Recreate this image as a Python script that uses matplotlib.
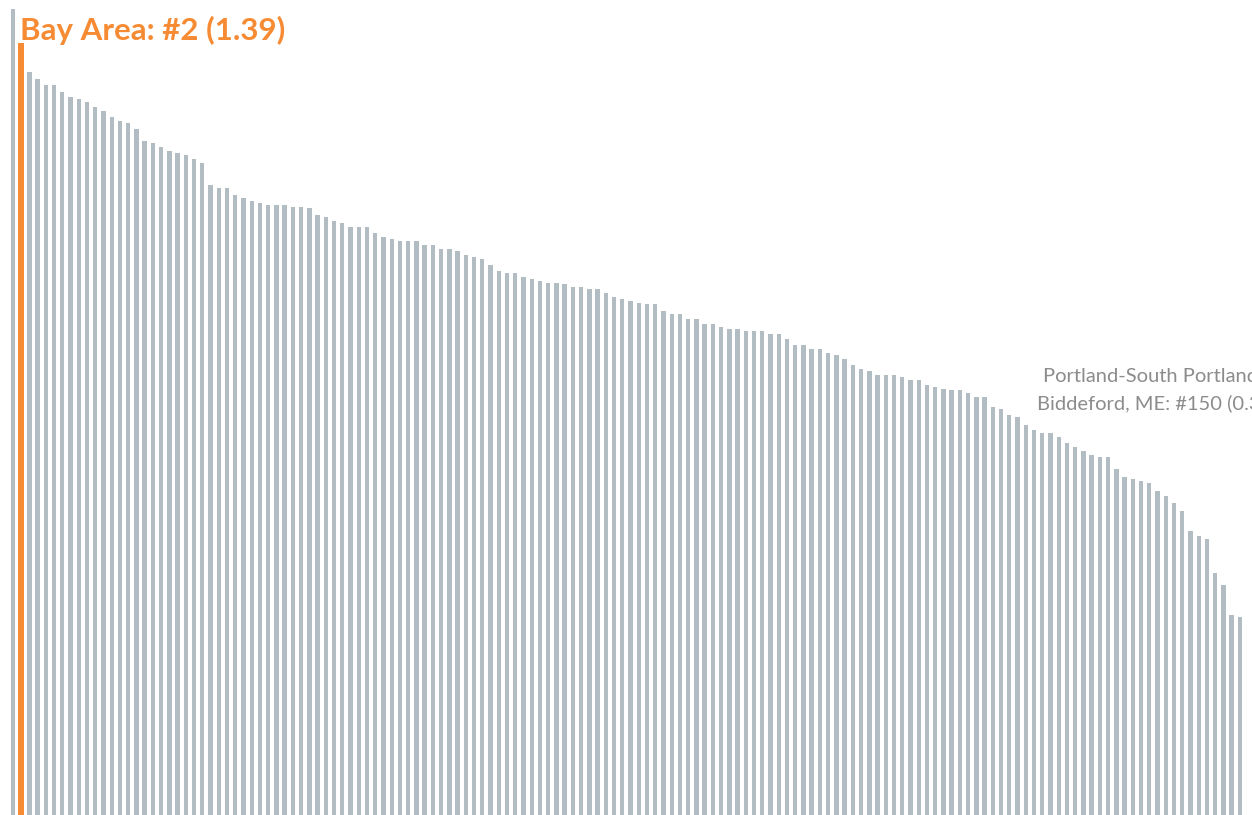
import matplotlib
matplotlib.use("Agg")
import matplotlib.pyplot as plt
import numpy as np

# ratio per metro area, sorted high to low (rank 1..150)
values = [
    1.451, 1.390, 1.337, 1.326, 1.315, 1.315, 1.301, 1.293, 1.290, 1.283,
    1.275, 1.268, 1.257, 1.250, 1.246, 1.236, 1.214, 1.210, 1.203, 1.196,
    1.192, 1.189, 1.182, 1.174, 1.135, 1.128, 1.128, 1.117, 1.110, 1.106,
    1.102, 1.099, 1.099, 1.099, 1.095, 1.095, 1.092, 1.081, 1.077, 1.070,
    1.066, 1.059, 1.059, 1.059, 1.048, 1.041, 1.037, 1.034, 1.034, 1.034,
    1.027, 1.027, 1.019, 1.019, 1.016, 1.009, 1.005, 1.001, 0.991, 0.980,
    0.976, 0.976, 0.969, 0.965, 0.962, 0.958, 0.958, 0.955, 0.951, 0.951,
    0.947, 0.947, 0.940, 0.933, 0.929, 0.926, 0.922, 0.919, 0.919, 0.908,
    0.901, 0.901, 0.893, 0.893, 0.883, 0.883, 0.879, 0.875, 0.875, 0.872,
    0.872, 0.872, 0.865, 0.865, 0.857, 0.846, 0.846, 0.839, 0.839, 0.832,
    0.828, 0.821, 0.810, 0.803, 0.800, 0.792, 0.792, 0.792, 0.789, 0.782,
    0.782, 0.774, 0.771, 0.767, 0.764, 0.764, 0.760, 0.753, 0.753, 0.735,
    0.731, 0.720, 0.717, 0.702, 0.692, 0.688, 0.688, 0.681, 0.670, 0.663,
    0.655, 0.648, 0.645, 0.645, 0.623, 0.609, 0.605, 0.601, 0.598, 0.583,
    0.573, 0.562, 0.547, 0.511, 0.501, 0.497, 0.436, 0.414, 0.360, 0.356,
]
highlight_rank = 2
highlight_label = "Bay Area: #2 (1.39)"
last_label = ["Portland-South Portland-", "Biddeford, ME: #150 (0.36)"]

GREY = "#b2bcc3"
ORANGE = "#f68b33"
LABEL_GREY = "#8c8c8c"

W, H = 1252, 815
fig = plt.figure(figsize=(W / 100, H / 100), dpi=100)
ax = fig.add_axes([0, 0, 1, 1])

x = np.arange(len(values))
colors = [ORANGE if i == highlight_rank - 1 else GREY for i in x]
widths = [0.7 if i == highlight_rank - 1 else 0.53 for i in x]
ax.bar(x, values, width=widths, color=colors, linewidth=0)

ax.set_xlim(-1.566, 150.47)
ax.set_ylim(-0.0009, 1.4676)
ax.axis("off")

fig.text(20 / W, 1 - 40 / H, highlight_label, color=ORANGE, fontsize=22.5,
         fontweight="bold", family=["Lato", "DejaVu Sans"], va="baseline")

# annotation for the last bar, runs off the right edge like the original
fig.text(1043 / W, 1 - 382.5 / H, last_label[0], color=LABEL_GREY, fontsize=14.5,
         family=["Lato", "DejaVu Sans"], va="baseline")
fig.text(1037 / W, 1 - 409 / H, last_label[1], color=LABEL_GREY, fontsize=14.5,
         family=["Lato", "DejaVu Sans"], va="baseline")

fig.savefig("out.png", dpi=100)
